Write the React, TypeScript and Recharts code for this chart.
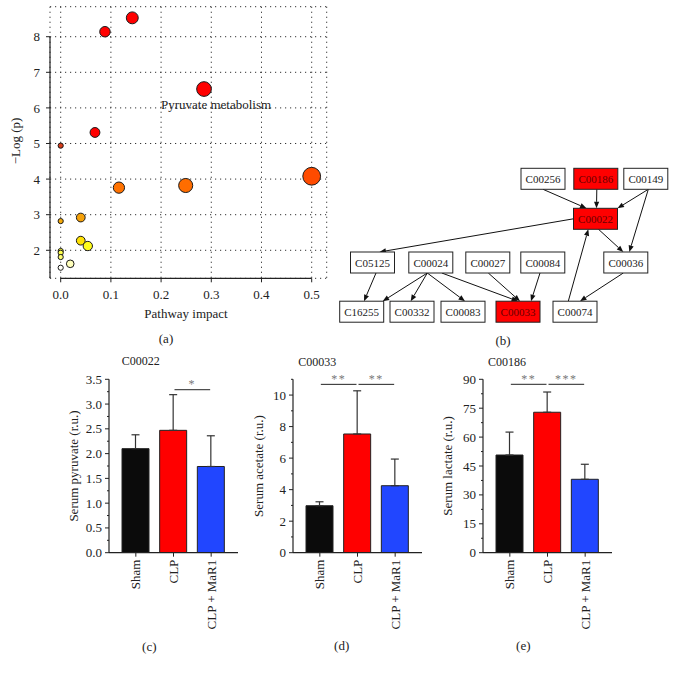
import React from 'react'
import {
  ScatterChart, Scatter, XAxis, YAxis, CartesianGrid, ReferenceLine,
  BarChart, Bar, Cell, ErrorBar,
} from 'recharts'

// ---- (a) pathway analysis ----
const pathwayImpact = [0.1426, 0.0882, 0.2855, 0.0683, 0, 0.5, 0.249, 0.116, 0.04, 0, 0.04, 0.054, 0, 0, 0, 0.019, 0]
const pathwayLogP = [8.53, 8.14, 6.53, 5.31, 4.94, 4.08, 3.82, 3.76, 2.92, 2.82, 2.27, 2.12, 1.98, 1.93, 1.81, 1.62, 1.51]
const pathwayLabels = ['', '', 'Pyruvate metabolism', '', '', '', '', '', '', '', '', '', '', '', '', '', '']
const impactTicks = [0, 0.1, 0.2, 0.3, 0.4, 0.5]
const logPTicks = [2, 3, 4, 5, 6, 7, 8]

// ---- (b) network ----
const nodeIds = ['C00256', 'C00186', 'C00149', 'C00022', 'C05125', 'C00024', 'C00027', 'C00084', 'C00036', 'C16255', 'C00332', 'C00083', 'C00033', 'C00074']
const nodeX = [543, 595.8, 645.8, 595.5, 372.5, 430.8, 487.8, 542.8, 625.8, 361.7, 412, 463, 518, 575]
const nodeY = [178.8, 178.8, 178.8, 218.8, 262.5, 262.5, 262.5, 262.5, 262.5, 311.7, 311.7, 311.7, 311.7, 311.7]
const hitNodes = ['C00186', 'C00022', 'C00033']
// from, side, offset, to, side, offset
const edges: [string, string, number, string, string, number][] = [
  ['C00256', 'bottom', 0, 'C00022', 'top', -9],
  ['C00186', 'bottom', 1, 'C00022', 'top', 1],
  ['C00149', 'bottom', 2.5, 'C00022', 'top', 22],
  ['C00149', 'bottom', 2.5, 'C00036', 'top', 3.5],
  ['C00022', 'left', 0, 'C05125', 'top', 7],
  ['C00022', 'bottom', 3, 'C00036', 'top', -2.5],
  ['C05125', 'bottom', 3.5, 'C16255', 'top', 2.3],
  ['C00024', 'bottom', -3.5, 'C16255', 'top', 21],
  ['C00024', 'bottom', -3.5, 'C00332', 'top', -1.3],
  ['C00024', 'bottom', -3.5, 'C00083', 'top', 2],
  ['C00024', 'bottom', 11, 'C00033', 'top', 0],
  ['C00027', 'bottom', 0.5, 'C00033', 'top', 2],
  ['C00084', 'bottom', -2.8, 'C00033', 'top', 13],
  ['C00036', 'bottom', -2.5, 'C00074', 'top', 5],
  ['C00074', 'top', -6.7, 'C00022', 'bottom', -7.2],
]

// ---- (c)-(e) serum metabolites ----
const groups = ['Sham', 'CLP', 'CLP + MaR1']
const pyruvateMean = [2.1, 2.47, 1.74]
const pyruvateSd = [0.28, 0.72, 0.62]
const acetateMean = [2.98, 7.53, 4.25]
const acetateSd = [0.25, 2.74, 1.69]
const lactateMean = [50.7, 72.9, 38.1]
const lactateSd = [11.9, 10.5, 7.8]
const groupColors = ['#0b0b0b', '#ff0000', '#2146ff']

const BOX_W = 44
const BOX_H = 21

const heatStops: [number, number[]][] = [
  [1.5, [255, 255, 255]],
  [1.65, [255, 255, 170]],
  [1.85, [255, 255, 100]],
  [2.1, [255, 255, 30]],
  [2.3, [255, 220, 0]],
  [2.9, [245, 162, 10]],
  [3.8, [255, 112, 0]],
  [4.1, [255, 72, 0]],
  [4.94, [215, 60, 25]],
  [5.3, [255, 0, 0]],
]

function heatColor(v: number) {
  if (v <= heatStops[0][0]) return 'rgb(255,255,255)'
  for (let i = 1; i < heatStops.length; i++) {
    const [v1, c1] = heatStops[i]
    const [v0, c0] = heatStops[i - 1]
    if (v <= v1) {
      const t = (v - v0) / (v1 - v0)
      const c = c0.map((a, k) => Math.round(a + (c1[k] - a) * t))
      return `rgb(${c.join(',')})`
    }
  }
  return 'rgb(255,0,0)'
}

const Bubble = (props: any) => {
  const { cx, cy, payload } = props
  const r = 2.6 + 8.9 * Math.sqrt(payload.impact)
  return (
    <g>
      <circle cx={cx} cy={cy} r={r} fill={heatColor(payload.logp)} stroke="#1a1a1a" strokeWidth={1} />
      {payload.label ? (
        <text x={cx + 12} y={cy + 15} textAnchor="middle" dominantBaseline="central" fontSize={13} fill="#222">
          {payload.label}
        </text>
      ) : null}
    </g>
  )
}

const NodeBox = (props: any) => {
  const { cx, cy, payload } = props
  const hot = hitNodes.includes(payload.id)
  return (
    <g>
      <rect x={cx - BOX_W / 2} y={cy - BOX_H / 2} width={BOX_W} height={BOX_H} fill={hot ? '#ff0000' : '#fff'} stroke="#222" strokeWidth={1} />
      <text x={cx} y={cy + 0.5} textAnchor="middle" dominantBaseline="central" fontSize={11} fill={hot ? '#6a0000' : '#222'}>
        {payload.id}
      </text>
    </g>
  )
}

const Arrow = (props: any) => {
  const { x1, y1, x2, y2 } = props
  const dx = x2 - x1
  const dy = y2 - y1
  const len = Math.hypot(dx, dy) || 1
  const ux = dx / len
  const uy = dy / len
  const L = 6.5
  const W = 2.6
  const bx = x2 - ux * L
  const by = y2 - uy * L
  return (
    <g>
      <line x1={x1} y1={y1} x2={bx} y2={by} stroke="#111" strokeWidth={1} />
      <polygon points={`${x2},${y2} ${bx - uy * W},${by + ux * W} ${bx + uy * W},${by - ux * W}`} fill="#111" />
    </g>
  )
}

function anchor(id: string, side: string, off: number) {
  const i = nodeIds.indexOf(id)
  const x = nodeX[i]
  const y = nodeY[i]
  if (side === 'top') return { x: x + off, y: y - BOX_H / 2 }
  if (side === 'bottom') return { x: x + off, y: y + BOX_H / 2 }
  if (side === 'left') return { x: x - BOX_W / 2, y: y + off }
  return { x: x + BOX_W / 2, y: y + off }
}

const A_XMIN = -0.0213
const A_XMAX = 0.5299
const A_YMIN = 1.213
const A_YMAX = 8.843

function PathwayPanel() {
  const data = pathwayImpact.map((x, i) => ({ impact: x, logp: pathwayLogP[i], label: pathwayLabels[i] }))
  return (
    <div style={{ position: 'absolute', left: 0, top: 0 }}>
      <ScatterChart width={340} height={325} margin={{ top: 6.7, right: 13.3, bottom: 0, left: 0 }}>
        <CartesianGrid stroke="#333" strokeDasharray="1.2 3.8" />
        <XAxis
          type="number" dataKey="impact" domain={[A_XMIN, A_XMAX]} allowDataOverflow
          ticks={impactTicks} interval={0} tickFormatter={(v: number) => v.toFixed(1)}
          axisLine={false} tickLine={{ stroke: '#222' }} tickSize={4} tickMargin={7} height={46.7}
          tick={{ fontSize: 13, fill: '#222' }}
        />
        <YAxis
          type="number" dataKey="logp" domain={[A_YMIN, A_YMAX]} allowDataOverflow
          ticks={logPTicks} interval={0}
          axisLine={false} tickLine={{ stroke: '#222' }} tickSize={4} tickMargin={6} width={50}
          tick={{ fontSize: 13, fill: '#222' }}
        />
        <ReferenceLine segment={[{ x: A_XMIN, y: A_YMIN }, { x: A_XMIN, y: 8 }]} stroke="#222" strokeWidth={1.2} ifOverflow="visible" />
        <ReferenceLine segment={[{ x: 0, y: A_YMIN }, { x: 0.5, y: A_YMIN }]} stroke="#222" strokeWidth={1.2} ifOverflow="visible" />
        <Scatter data={data} shape={Bubble} isAnimationActive={false} />
      </ScatterChart>
    </div>
  )
}

function NetworkPanel() {
  const data = nodeIds.map((id, i) => ({ id, x: nodeX[i], y: nodeY[i] }))
  return (
    <div style={{ position: 'absolute', left: 330, top: 150 }}>
      <ScatterChart width={348} height={185} margin={{ top: 0, right: 0, bottom: 0, left: 0 }}>
        <XAxis type="number" dataKey="x" domain={[330, 678]} allowDataOverflow hide />
        <YAxis type="number" dataKey="y" domain={[150, 335]} allowDataOverflow reversed hide />
        {edges.map((e, i) => (
          <ReferenceLine
            key={i}
            segment={[anchor(e[0], e[1], e[2]), anchor(e[3], e[4], e[5])]}
            shape={Arrow}
            ifOverflow="visible"
          />
        ))}
        <Scatter data={data} shape={NodeBox} isAnimationActive={false} />
      </ScatterChart>
    </div>
  )
}

const RotTick = (props: any) => {
  const { x, y, payload } = props
  return (
    <text x={x} y={y} transform={`rotate(-90 ${x} ${y})`} textAnchor="end" dominantBaseline="central" fontSize={13} fill="#222">
      {payload.value}
    </text>
  )
}

interface BarPanelProps {
  left: number
  means: number[]
  sds: number[]
  domain: [number, number]
  majorTicks: number[]
  minorTicks: number[]
  digits: number
  brackets: [string, string, string, number][]
}

function BarPanel({ left, means, sds, domain, majorTicks, minorTicks, digits, brackets }: BarPanelProps) {
  const data = groups.map((g, i) => ({ group: g, value: means[i], err: [0, sds[i]] }))
  const allTicks = [...majorTicks, ...minorTicks].sort((a, b) => a - b)
  const YTick = (p: any) => {
    const { x, y, payload } = p
    const major = majorTicks.includes(payload.value)
    return (
      <g>
        <line x1={x + (major ? 3 : 5)} x2={x + 7} y1={y} y2={y} stroke="#222" strokeWidth={1} />
        {major ? (
          <text x={x} y={y} textAnchor="end" dominantBaseline="central" fontSize={13} fill="#222">
            {payload.value.toFixed(digits)}
          </text>
        ) : null}
      </g>
    )
  }
  return (
    <div style={{ position: 'absolute', left, top: 370 }}>
      <BarChart width={184} height={280} data={data} margin={{ top: 9.3, right: 5, bottom: 0, left: 0 }}>
        <XAxis
          dataKey="group" padding={{ left: 8, right: 8 }} interval={0}
          tickSize={4} tickMargin={3} tick={<RotTick />} height={97.3}
          axisLine={{ stroke: '#222', strokeWidth: 1.2 }} tickLine={{ stroke: '#222' }}
        />
        <YAxis
          type="number" domain={domain} allowDataOverflow ticks={allTicks} interval={0} width={50}
          tickSize={4} tickMargin={3} tickLine={false} tick={YTick}
          axisLine={{ stroke: '#222', strokeWidth: 1.2 }}
        />
        <Bar dataKey="value" barSize={27} isAnimationActive={false} stroke="#222" strokeWidth={1}>
          {data.map((d, i) => <Cell key={d.group} fill={groupColors[i]} />)}
          <ErrorBar dataKey="err" direction="y" width={4} stroke="#333" strokeWidth={1.2} isAnimationActive={false} />
        </Bar>
        {brackets.map((b, i) => (
          <ReferenceLine
            key={i}
            segment={[{ x: b[0], y: b[3] }, { x: b[1], y: b[3] }]}
            ifOverflow="visible"
            shape={(p: any) => (
              <g>
                <line x1={p.x1 + 1} x2={p.x2 - 1} y1={p.y1} y2={p.y1} stroke="#222" strokeWidth={1} />
                <text x={(p.x1 + p.x2) / 2} y={p.y1 - 1.5} textAnchor="middle" fontSize={12} letterSpacing={1.5} fill="#777">
                  {b[2]}
                </text>
              </g>
            )}
          />
        ))}
      </BarChart>
    </div>
  )
}

export default function App() {
  return (
    <div
      style={{
        position: 'absolute', left: 0, top: 0, width: 678, height: 674, background: '#fff',
        fontFamily: '"Liberation Serif", "Times New Roman", serif', overflow: 'hidden',
      }}
    >
      <PathwayPanel />
      <NetworkPanel />
      <BarPanel
        left={59.3} means={pyruvateMean} sds={pyruvateSd} domain={[0, 3.5]}
        majorTicks={[0, 0.5, 1, 1.5, 2, 2.5, 3, 3.5]} minorTicks={[0.25, 0.75, 1.25, 1.75, 2.25, 2.75, 3.25]} digits={1}
        brackets={[['CLP', 'CLP + MaR1', '*', 3.29]]}
      />
      <BarPanel
        left={242.7} means={acetateMean} sds={acetateSd} domain={[0, 11]}
        majorTicks={[0, 2, 4, 6, 8, 10]} minorTicks={[1, 3, 5, 7, 9, 11]} digits={0}
        brackets={[['Sham', 'CLP', '**', 10.68], ['CLP', 'CLP + MaR1', '**', 10.68]]}
      />
      <BarPanel
        left={433.3} means={lactateMean} sds={lactateSd} domain={[0, 90]}
        majorTicks={[0, 15, 30, 45, 60, 75, 90]} minorTicks={[7.5, 22.5, 37.5, 52.5, 67.5, 82.5]} digits={0}
        brackets={[['Sham', 'CLP', '**', 87.4], ['CLP', 'CLP + MaR1', '***', 87.4]]}
      />
      <svg width={678} height={674} style={{ position: 'absolute', left: 0, top: 0, pointerEvents: 'none' }}>
        <g fontSize={13} fill="#222">
          <text x={15.5} y={141} transform="rotate(-90 15.5 141)" textAnchor="middle" dominantBaseline="central">−Log (p)</text>
          <text x={186} y={313} textAnchor="middle" dominantBaseline="central">Pathway impact</text>
          <text x={166} y={338} textAnchor="middle" dominantBaseline="central">(a)</text>
          <text x={503} y={340} textAnchor="middle" dominantBaseline="central">(b)</text>
          <text x={73.3} y={466} transform="rotate(-90 73.3 466)" textAnchor="middle" dominantBaseline="central">Serum pyruvate (r.u.)</text>
          <text x={258} y={466} transform="rotate(-90 258 466)" textAnchor="middle" dominantBaseline="central">Serum acetate (r.u.)</text>
          <text x={447} y={466} transform="rotate(-90 447 466)" textAnchor="middle" dominantBaseline="central">Serum lactate (r.u.)</text>
          <text x={149.3} y={646} textAnchor="middle" dominantBaseline="central">(c)</text>
          <text x={341.7} y={645} textAnchor="middle" dominantBaseline="central">(d)</text>
          <text x={523.3} y={645} textAnchor="middle" dominantBaseline="central">(e)</text>
        </g>
        <g fontSize={12} fill="#222">
          <text x={121.7} y={361} dominantBaseline="central">C00022</text>
          <text x={298.3} y={362} dominantBaseline="central">C00033</text>
          <text x={488} y={362} dominantBaseline="central">C00186</text>
        </g>
      </svg>
    </div>
  )
}
